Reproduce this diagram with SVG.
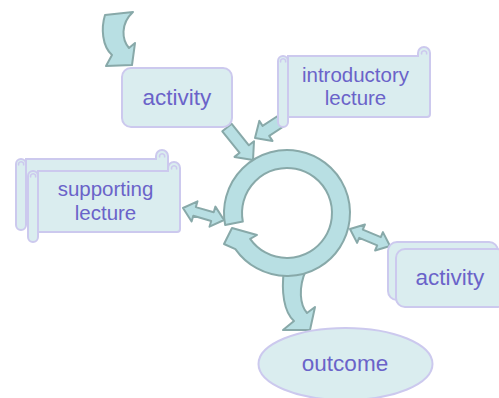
<svg xmlns="http://www.w3.org/2000/svg" xmlns:xlink="http://www.w3.org/1999/xlink" width="499" height="398" viewBox="0 0 499 398">
  <style>
    .node { fill: #daedef; stroke: #ccc9ee; stroke-width: 2; }
    .curl { fill: none; stroke: #ccc9ee; stroke-width: 1.6; }
    .blk { fill: #b8dfe3; stroke: #88a9a9; stroke-width: 2; stroke-linejoin: round; }
    .lbl { font-family: "Liberation Sans", Arial, sans-serif; fill: #6a63c9; text-anchor: middle; }
    .big { font-size: 22.5px; }
    .small { font-size: 20.5px; }
  </style>
  <defs>
    <!-- horizontal scroll, 152 x 80, origin at its top-left -->
    <g id="scroll">
      <path class="node" d="M10,9 H140 V6 A6,6 0 0 1 152,6 V67 A3,3 0 0 1 149,70 H10 Z"/>
      <path class="curl" d="M143.8,7.5 A2.6,2.6 0 1 1 148.4,7.5"/>
      <rect class="node" x="0" y="9" width="10" height="71" rx="5"/>
      <path class="curl" d="M2.8,15.5 A2.6,2.6 0 1 1 7.4,15.5"/>
    </g>
  </defs>

  <g id="connectors">
    <!-- curved arrow entering the first activity -->
    <path class="blk" d="M105,15 C101,28 102,46 112,55 L106,66 L132,65 L135,43 L129,48 C122,40 120,24 133,12 Z"/>
    <!-- activity to cycle -->
    <polygon class="blk" points="222.3,131.3 239.6,152.8 234.5,156.9 253,160 254,141.3 248.9,145.3 231.7,123.8"/>
    <!-- introductory lecture to cycle -->
    <polygon class="blk" points="277.7,116 262.6,125.9 259.3,120.9 255,138 272.5,140.9 269.2,135.9 284.3,126"/>
    <!-- supporting lecture and cycle -->
    <polygon class="blk" points="183,208 191.6,221.5 193.3,215.7 211.2,221 209.5,226.7 224,220 215.4,206.6 213.7,212.3 195.8,207.1 197.5,201.3"/>
    <!-- cycle and second activity -->
    <polygon class="blk" points="350,229 357.1,242.9 359.2,237.8 377.2,245.4 375.1,250.5 390,246 382.9,232.1 380.8,237.2 362.8,229.6 364.9,224.5"/>
    <!-- cycle to outcome -->
    <path class="blk" d="M284,270 C281,292 284,312 294,321 L283,330 L310,330 L315,307 L307,313 C300,305 298,288 306,270 Z"/>
  </g>

  <g id="activity-start">
    <rect class="node" x="122" y="68" width="110" height="59" rx="9"/>
    <text class="lbl big" x="177" y="105">activity</text>
  </g>

  <g id="introductory-lecture">
    <use xlink:href="#scroll" href="#scroll" x="278" y="47"/>
    <text class="lbl small" x="355.5" y="82">introductory</text>
    <text class="lbl small" x="355.5" y="105">lecture</text>
  </g>

  <g id="supporting-lecture">
    <!-- back sheet of the stack, its label mostly covered by the front sheet -->
    <use xlink:href="#scroll" href="#scroll" x="16" y="150"/>
    <text class="lbl small" x="93.5" y="185">supporting</text>
    <use xlink:href="#scroll" href="#scroll" x="28" y="162"/>
    <text class="lbl small" x="105.5" y="196">supporting</text>
    <text class="lbl small" x="105.5" y="220">lecture</text>
  </g>

  <g id="cycle">
    <path class="blk" d="M225.16,225.02 A63,63 0 1 1 235.39,249.14 L224,244 L232,228 L257,235 L250.14,238.81 A45,45 0 1 0 242.83,221.59 Z"/>
  </g>

  <g id="activity-repeat">
    <rect class="node" x="388" y="242" width="110" height="58" rx="9"/>
    <rect class="node" x="396" y="249" width="110" height="58" rx="9"/>
    <text class="lbl big" x="450" y="285">activity</text>
  </g>

  <g id="outcome">
    <ellipse class="node" cx="345.5" cy="364" rx="87" ry="36"/>
    <text class="lbl big" x="345" y="371">outcome</text>
  </g>
</svg>
